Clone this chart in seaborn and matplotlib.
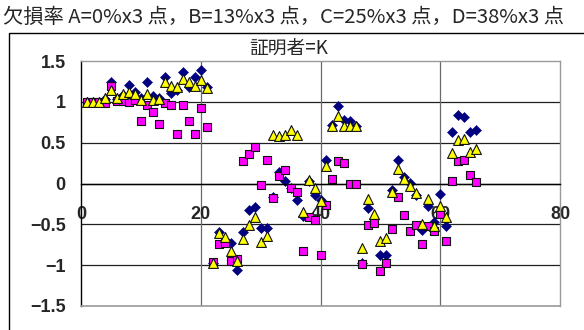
import matplotlib
matplotlib.use("Agg")
import matplotlib.pyplot as plt
import seaborn as sns
import pandas as pd
from matplotlib.patches import Rectangle

# ---------------- data ----------------
x_values = list(range(1, 67))

series_blue = [1.00, 1.00, 1.00, 1.03, 1.24, 1.03, 1.08, 1.21, 1.12, 1.05,
               1.24, 1.07, 1.05, 1.31, 1.11, 1.15, 1.37, 1.18, 1.30, 1.39,
               1.18, -0.97, -0.59, -0.70, -0.73, -1.06, -0.59, -0.33, -0.29, -0.54,
               -0.55, -0.16, 0.14, 0.03, -0.06, -0.20, -0.40, 0.03, -0.14, -0.20,
               0.29, 0.72, 0.95, 0.78, 0.76, 0.70, -0.97, -0.30, -0.43, -0.88,
               -0.88, -0.08, 0.29, 0.08, 0.01, -0.14, -0.57, -0.28, -0.47, -0.13,
               -0.52, 0.63, 0.84, 0.81, 0.63, 0.65]

series_magenta = [1.00, 1.00, 1.00, 0.98, 1.19, 1.01, 1.01, 1.00, 1.02, 0.76,
                  0.96, 0.87, 0.73, 0.99, 0.96, 0.61, 0.96, 0.76, 0.61, 0.92,
                  0.69, -0.96, -0.74, -0.73, -0.95, -0.92, 0.27, 0.36, 0.45, -0.02,
                  0.29, -0.18, 0.09, 0.16, -0.05, -0.10, -0.83, -0.41, -0.45, -0.88,
                  -0.26, 0.06, 0.27, 0.25, -0.01, 0.00, -0.99, -0.51, -0.48, -1.07,
                  -0.97, -0.56, -0.17, -0.38, -0.58, -0.51, -0.74, -0.52, -0.58, -0.37,
                  -0.70, 0.03, 0.27, 0.29, 0.10, 0.02]

series_yellow = [1.00, 1.00, 1.00, 1.05, 1.15, 1.05, 1.10, 1.12, 1.10, 1.02,
                 1.09, 1.02, 1.03, 1.24, 1.19, 1.18, 1.28, 1.24, 1.19, 1.27,
                 1.17, -0.97, -0.60, -0.65, -0.83, -0.95, -0.68, -0.51, -0.41, -0.72,
                 -0.64, 0.59, 0.58, 0.59, 0.66, 0.59, -0.35, 0.04, -0.05, -0.22,
                 0.22, 0.70, 0.83, 0.70, 0.71, 0.70, -0.79, -0.19, -0.37, -0.70,
                 -0.67, -0.11, 0.18, 0.06, -0.03, -0.12, -0.49, -0.19, -0.52, -0.28,
                 -0.41, 0.37, 0.53, 0.55, 0.38, 0.42]

title_text = "欠損率 A=0%x3 点，B=13%x3 点，C=25%x3 点，D=38%x3 点"
subtitle_text = "証明者=K"
x_ticks = [0, 20, 40, 60, 80]
y_ticks = [-1.5, -1.0, -0.5, 0.0, 0.5, 1.0, 1.5]

df = pd.DataFrame({
    "x": x_values,
    "blue": series_blue,
    "magenta": series_magenta,
    "yellow": series_yellow,
})

# ---------------- style ----------------
sns.set_style("white")
plt.rcParams['font.family'] = ['Liberation Sans', 'DejaVu Sans']
plt.rcParams['axes.unicode_minus'] = True

W, H = 584, 330
fig = plt.figure(figsize=(W / 100, H / 100), dpi=100)
L, R, T, B = 81, 560, 61, 306
ax = fig.add_axes([L / W, 1 - B / H, (R - L) / W, (B - T) / H])

# chart-area border (extends beyond the crop)
fig.patches.append(Rectangle((9.3 / W, -0.2), 1.2, 1 - 32.5 / H + 0.2,
                             transform=fig.transFigure, fill=False,
                             edgecolor='black', linewidth=1.0, zorder=0))

ax.set_xlim(0, 80)
ax.set_ylim(-1.5, 1.5)

# gridlines
ax.set_axisbelow(True)
for yv in y_ticks[1:-1]:
    ax.axhline(yv, color='#202020', linewidth=0.9, zorder=0.5)
for xv in x_ticks[1:-1]:
    ax.axvline(xv, color='#6a6a6a', linewidth=0.9, zorder=0.5)

# series
sns.scatterplot(data=df, x="x", y="blue", ax=ax, marker='D', s=26,
                color='#000080', edgecolor='#000080', linewidth=0.4, zorder=2)
sns.scatterplot(data=df, x="x", y="magenta", ax=ax, marker='s', s=32,
                color='#FF00FF', edgecolor='#111111', linewidth=0.8, zorder=3)
sns.scatterplot(data=df, x="x", y="yellow", ax=ax, marker='^', s=50,
                color='#FFFF00', edgecolor='#111111', linewidth=0.8, zorder=4)

# spines / plot area border
for s in ['top', 'right']:
    ax.spines[s].set_color('#9a9a9a')
    ax.spines[s].set_linewidth(1.0)
ax.spines['left'].set_color('black')
ax.spines['left'].set_linewidth(1.0)
ax.spines['bottom'].set_position(('data', 0))
ax.spines['bottom'].set_color('black')
ax.spines['bottom'].set_linewidth(1.0)
ax.axhline(-1.5, color='#9a9a9a', linewidth=1.2, clip_on=False, zorder=5)

ax.set_xticks(x_ticks)
ax.set_xticklabels([str(v) for v in x_ticks])
ax.set_yticks(y_ticks)
ax.set_yticklabels([f"{v:g}".replace("-", "\u2212") for v in y_ticks])
ax.tick_params(axis='x', length=0, pad=16, labelsize=13)
ax.tick_params(axis='y', length=0, pad=11, labelsize=13)
for lab in ax.get_xticklabels() + ax.get_yticklabels():
    lab.set_fontweight('bold')
ax.set_xlabel("")
ax.set_ylabel("")

# titles
fig.text(3 / W, 1 - 17 / H, title_text, fontsize=14.6, ha='left', va='center',
         family=['Noto Sans CJK JP', 'DejaVu Sans'])
fig.text(289 / W, 1 - 48 / H, subtitle_text, fontsize=13.5, ha='center', va='center',
         family=['Noto Sans CJK JP', 'DejaVu Sans'])

fig.savefig("out.png", dpi=100)
